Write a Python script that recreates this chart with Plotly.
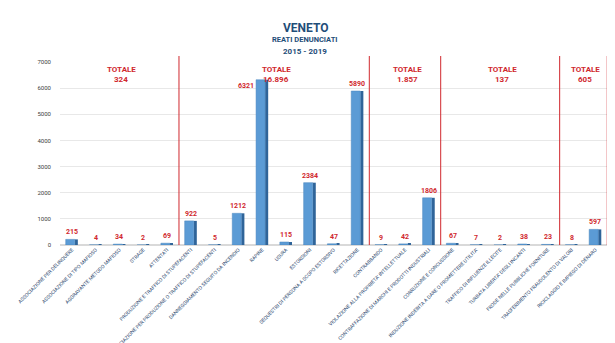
import plotly.graph_objects as go

categories = [
    "ASSOCIAZIONE PER DELINQUERE",
    "ASSOCIAZIONE DI TIPO MAFIOSO",
    "AGGRAVANTE METODO MAFIOSO",
    "STRAGE",
    "ATTENTATI",
    "PRODUZIONE E TRAFFICO DI STUPEFACENTI",
    "ASSOCIAZIONE PER PRODUZIONE O TRAFFICO DI STUPEFACENTI",
    "DANNEGGIAMENTO SEGUITO DA INCENDIO",
    "RAPINE",
    "USURA",
    "ESTORSIONI",
    "SEQUESTRI DI PERSONA A SCOPO ESTORSIVO",
    "RICETTAZIONE",
    "CONTRABBANDO",
    "VIOLAZIONE ALLA PROPRIETA' INTELLETTUALE",
    "CONTRAFFAZIONE DI MARCHI E PRODOTTI INDUSTRIALI",
    "CORRUZIONE E CONCUSSIONE",
    "INDUZIONE INDEBITA A DARE O PROMETTERE UTILITA'",
    "TRAFFICO DI INFLUENZE ILLECITE",
    "TURBATA LIBERTA' DEGLI INCANTI",
    "FRODE NELLE PUBBLICHE FORNITURE",
    "TRASFERIMENTO FRAUDOLENTO DI VALORI",
    "RICICLAGGIO E IMPIEGO DI DENARO",
]
values = [215, 4, 34, 2, 69, 922, 5, 1212, 6321, 115, 2384, 47, 5890,
          9, 42, 1806, 67, 7, 2, 38, 23, 8, 597]
group_sizes = [5, 8, 3, 5, 2]
y_ticks = [0, 1000, 2000, 3000, 4000, 5000, 6000, 7000]

# page offset of the plot div (default body margin)
OFF = 8
W, H = 607, 335
ML, MR, MT, MB = 52, 3, 54, 98
ph = H - MT - MB

def py(page_px):
    return (H - MB - (page_px - OFF)) / ph

x = list(range(len(categories)))
RED = "#D0282E"
FONT = "Liberation Sans Narrow, Arial Narrow, Roboto, sans-serif"

fig = go.Figure()
# side face (3D look)
fig.add_trace(go.Bar(
    x=x, y=values, width=0.13, offset=0.12,
    marker=dict(color="#2F6499", line=dict(width=0)),
    hoverinfo="skip", showlegend=False,
))
# front face
fig.add_trace(go.Bar(
    x=x, y=values, width=0.38, offset=-0.26,
    marker=dict(color="#5B9BD5", line=dict(color="#4A86BF", width=0.5)),
    showlegend=False,
))

shapes = []
annotations = []

# value labels
for xi, v in zip(x, values):
    if v > 6000:
        annotations.append(dict(x=xi - 0.26, xref="x", y=v, yref="y",
                                xanchor="right", yanchor="top",
                                text=f"<b>{v}</b>", showarrow=False,
                                font=dict(color=RED, size=7, family=FONT)))
    else:
        annotations.append(dict(x=xi, xref="x", y=v, yref="y",
                                xanchor="center", yanchor="bottom", yshift=1,
                                text=f"<b>{v}</b>", showarrow=False,
                                font=dict(color=RED, size=7, family=FONT)))

start = 0
for gs in group_sizes:
    end = start + gs
    bx = end - 0.5
    shapes.append(dict(type="line", xref="x", yref="paper", x0=bx, x1=bx,
                       y0=0.0, y1=py(56), line=dict(color=RED, width=1)))
    total = sum(values[start:end])
    tot_txt = f"{total:,}".replace(",", ".")
    cx = (start - 0.5 + end - 0.5) / 2
    annotations.append(dict(x=cx, xref="x", xshift=2, y=py(63), yref="paper",
                            text="<b>TOTALE</b>", showarrow=False,
                            font=dict(color=RED, size=8, family=FONT)))
    annotations.append(dict(x=cx, xref="x", xshift=2, y=py(73), yref="paper",
                            text=f"<b>{tot_txt}</b>", showarrow=False,
                            font=dict(color=RED, size=8, family=FONT)))
    start = end

TITLE_C = "#1F4E79"
tx = (305 - OFF - ML) / (W - ML - MR)
annotations += [
    dict(x=tx, xref="paper", xanchor="center", y=py(19), yref="paper",
         text="<b>VENETO</b>", showarrow=False,
         font=dict(color=TITLE_C, size=12, family=FONT)),
    dict(x=tx, xref="paper", xanchor="center", y=py(33), yref="paper",
         text="<b>REATI DENUNCIATI</b>", showarrow=False,
         font=dict(color=TITLE_C, size=7.5, family=FONT)),
    dict(x=tx, xref="paper", xanchor="center", y=py(45), yref="paper",
         text="<b>2015 - 2019</b>", showarrow=False,
         font=dict(color=TITLE_C, size=8, family=FONT)),
]

fig.update_layout(
    width=W, height=H,
    margin=dict(l=ML, r=MR, t=MT, b=MB, autoexpand=False),
    paper_bgcolor="white", plot_bgcolor="white",
    barmode="overlay",
    shapes=shapes, annotations=annotations,
    xaxis=dict(
        tickmode="array", tickvals=x, ticktext=categories,
        tickangle=-45, range=[-0.5, len(categories) - 0.3],
        tickfont=dict(size=5, color="#2E4A70", family=FONT),
        showgrid=False, zeroline=False, showline=False, ticks="",
        automargin=False,
    ),
    yaxis=dict(
        range=[0, 7000], tickvals=y_ticks,
        tickfont=dict(size=6, color="#404040", family=FONT),
        showgrid=True, gridcolor="#E8E8E8", gridwidth=1,
        zeroline=True, zerolinecolor="#D9D9D9", showline=False,
        ticklabelstandoff=8, automargin=False,
    ),
)

fig.write_html("out.html")
